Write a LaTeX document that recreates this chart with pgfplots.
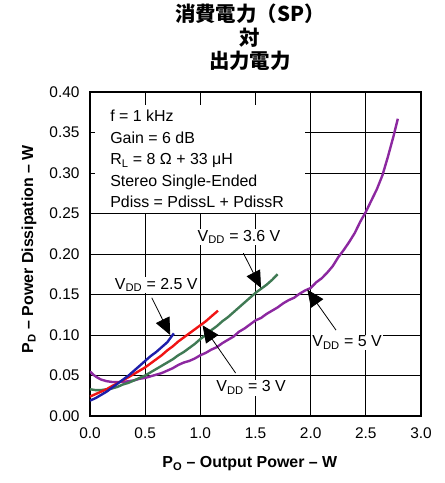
\documentclass[border=0pt]{standalone}
\usepackage{fontspec}
\setmainfont{Liberation Sans}
\newfontfamily\cjk{Noto Sans CJK JP}
\usepackage{pgfplots}
\pgfplotsset{compat=1.18}
\usetikzlibrary{arrows.meta}
\definecolor{cPurple}{RGB}{140,40,160}
\definecolor{cGreen}{RGB}{64,122,84}
\definecolor{cRed}{RGB}{240,20,20}
\definecolor{cBlue}{RGB}{30,30,170}
\newcommand{\annfont}{\fontsize{16}{19}\selectfont}
\begin{document}
\begin{tikzpicture}
\begin{axis}[
  at={(0,0)}, anchor=south west,
  scale only axis, width=331bp, height=324bp,
  xmin=0, xmax=3, ymin=0, ymax=0.4,
  xtick={0,0.5,1,1.5,2,2.5,3},
  ytick={0,0.05,0.1,0.15,0.2,0.25,0.3,0.35,0.4},
  grid=major,
  major grid style={black, line width=0.8bp},
  axis line style={line width=1.6bp},
  major tick length=0pt,
  tick label style={font=\fontsize{15.5}{18}\selectfont},
  /pgf/number format/assume math mode=true,
  x tick label style={/pgf/number format/fixed, /pgf/number format/fixed zerofill, /pgf/number format/precision=1, anchor=base, yshift=-22bp},
  y tick label style={/pgf/number format/fixed, /pgf/number format/fixed zerofill, /pgf/number format/precision=2, anchor=east, xshift=-7bp},
  title={消費電力（SP）\\ 対\\ 出力電力},
  title style={at={(axis description cs:0.483,1.15)}, anchor=center, align=center, font=\cjk\bfseries\fontsize{20.5}{23.75}\selectfont},
  xlabel={\bfseries P\textsubscript{O} – Output Power – W},
  xlabel style={at={(axis description cs:0.483,-0.160)}, anchor=base, font=\fontsize{16}{19}\selectfont},
  ylabel={\bfseries P\textsubscript{D} – Power Dissipation – W},
  ylabel style={at={(axis description cs:-0.172,0.515)}, anchor=base, font=\fontsize{16}{19}\selectfont},
]
% white box behind conditions text
\fill[white] (axis cs:0.045,0.251) rectangle (axis cs:1.945,0.384);

% VDD = 5 V
\addplot[cPurple, line width=2.4bp] coordinates {
(0.00,0.055) (0.03,0.051) (0.06,0.048) (0.10,0.045) (0.15,0.043) (0.20,0.042)
(0.25,0.042) (0.30,0.042) (0.35,0.043) (0.40,0.044) (0.45,0.046) (0.50,0.047)
(0.55,0.049) (0.60,0.051) (0.65,0.053) (0.70,0.056) (0.75,0.059) (0.80,0.063)
(0.85,0.066) (0.90,0.068) (0.95,0.071) (1.00,0.075) (1.05,0.078) (1.10,0.082)
(1.15,0.085) (1.20,0.090) (1.25,0.094) (1.30,0.098) (1.35,0.104) (1.40,0.108)
(1.45,0.113) (1.50,0.118) (1.55,0.121) (1.60,0.126) (1.65,0.130) (1.70,0.134)
(1.75,0.139) (1.80,0.143) (1.85,0.146) (1.90,0.151) (1.95,0.155) (2.00,0.158)
(2.05,0.165) (2.10,0.170) (2.15,0.177) (2.20,0.185) (2.25,0.196) (2.30,0.205)
(2.35,0.215) (2.40,0.226) (2.45,0.240) (2.50,0.252) (2.55,0.266) (2.60,0.280)
(2.65,0.297) (2.70,0.320) (2.75,0.345) (2.79,0.367)
};
% VDD = 3.6 V
\addplot[cGreen, line width=2.4bp] coordinates {
(0.00,0.033) (0.05,0.032) (0.10,0.032) (0.15,0.033) (0.20,0.034) (0.25,0.036)
(0.30,0.039) (0.35,0.041) (0.40,0.044) (0.45,0.047) (0.50,0.050) (0.55,0.054)
(0.60,0.058) (0.65,0.062) (0.70,0.066) (0.75,0.070) (0.80,0.075) (0.85,0.079)
(0.90,0.084) (0.95,0.089) (1.00,0.095) (1.05,0.100) (1.10,0.106) (1.15,0.111)
(1.20,0.117) (1.25,0.122) (1.30,0.128) (1.35,0.134) (1.40,0.140) (1.45,0.146)
(1.50,0.152) (1.55,0.157) (1.60,0.162) (1.65,0.168) (1.70,0.175)
};
% VDD = 3 V
\addplot[cRed, line width=2.4bp] coordinates {
(0.00,0.024) (0.05,0.027) (0.10,0.030) (0.15,0.033) (0.20,0.037) (0.27,0.042)
(0.35,0.048) (0.40,0.052) (0.45,0.056) (0.50,0.060) (0.55,0.065) (0.60,0.070)
(0.65,0.075) (0.70,0.081) (0.75,0.086) (0.80,0.092) (0.85,0.097) (0.90,0.102)
(0.95,0.107) (1.00,0.112) (1.05,0.117) (1.10,0.123) (1.16,0.130)
};
% VDD = 2.5 V
\addplot[cBlue, line width=2.4bp] coordinates {
(0.00,0.019) (0.05,0.022) (0.10,0.026) (0.15,0.030) (0.20,0.035) (0.25,0.040)
(0.30,0.045) (0.35,0.050) (0.40,0.056) (0.45,0.062) (0.50,0.068) (0.55,0.074)
(0.60,0.079) (0.65,0.085) (0.70,0.091) (0.76,0.102)
};

% conditions text
\node[anchor=base west, font=\annfont, inner sep=0pt] at (axis cs:0.182,0.3630) {f = 1 kHz};
\node[anchor=base west, font=\annfont, inner sep=0pt] at (axis cs:0.182,0.3364) {Gain = 6 dB};
\node[anchor=base west, font=\annfont, inner sep=0pt] at (axis cs:0.182,0.3099) {R\textsubscript{L} = 8 Ω + 33 μH};
\node[anchor=base west, font=\annfont, inner sep=0pt] at (axis cs:0.182,0.2833) {Stereo Single-Ended};
\node[anchor=base west, font=\annfont, inner sep=0pt] at (axis cs:0.182,0.2568) {Pdiss = PdissL + PdissR};

% curve labels
\node[fill=white, inner sep=1bp, font=\annfont] at (axis cs:0.60,0.162) {V\textsubscript{DD} = 2.5 V};
\node[fill=white, inner sep=1bp, font=\annfont] at (axis cs:1.35,0.221) {V\textsubscript{DD} = 3.6 V};
\node[fill=white, inner sep=1bp, font=\annfont] at (axis cs:2.33,0.091) {V\textsubscript{DD} = 5 V};
\node[fill=white, inner sep=1bp, font=\annfont] at (axis cs:1.46,0.035) {V\textsubscript{DD} = 3 V};

% arrows
\draw[line width=0.8bp, -{Triangle[length=17bp, width=15bp]}] (axis cs:0.56,0.146) -- (axis cs:0.727,0.100);
\draw[line width=0.8bp, -{Triangle[length=17bp, width=15bp]}] (axis cs:1.39,0.201) -- (axis cs:1.55,0.158);
\draw[line width=0.8bp, -{Triangle[length=17bp, width=15bp]}] (axis cs:2.23,0.106) -- (axis cs:1.97,0.156);
\draw[line width=0.8bp, -{Triangle[length=17bp, width=15bp]}] (axis cs:1.32,0.053) -- (axis cs:1.02,0.112);

\node[anchor=base east, font=\fontsize{9}{11}\selectfont, inner sep=0pt] at (axis description cs:1.027,-0.185) {G021};
\end{axis}
\path[use as bounding box] (-90bp,-67bp) rectangle (355bp,416bp);
\end{tikzpicture}
\end{document}
